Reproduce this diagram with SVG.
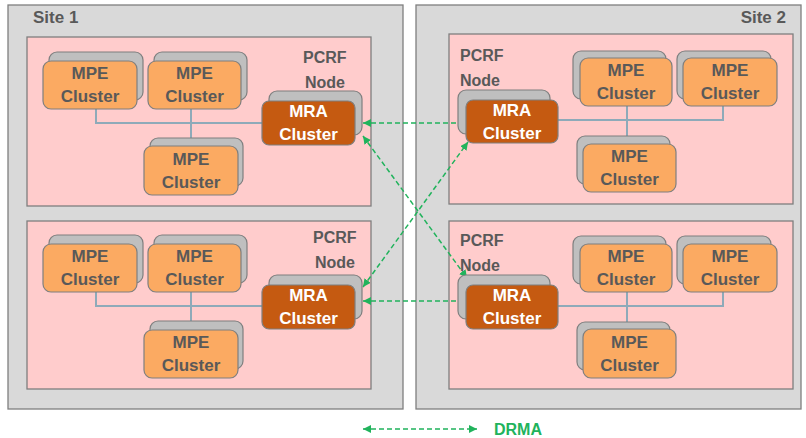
<svg xmlns="http://www.w3.org/2000/svg" width="806" height="438" viewBox="0 0 806 438">
<defs>
<style>
.site{fill:#d9d9d9;stroke:#7f7f7f;stroke-width:1.3}
.pcrf{fill:#ffcccc;stroke:#7f7f7f;stroke-width:1.3}
.back{fill:#bfbfbf;stroke:#7f7f7f;stroke-width:1.2}
.mpe{fill:#fbaa62;stroke:#7f7f7f;stroke-width:1.2}
.mra{fill:#c55a11;stroke:#7f7f7f;stroke-width:1.2}
.t{font-family:"Liberation Sans",Arial,sans-serif;font-weight:bold;fill:#595959}
.n{font-size:17px;text-anchor:middle}
.w{fill:#ffffff}
.lbl{font-size:16px}
.link{fill:none;stroke:#8eaab9;stroke-width:2}
.drma{fill:none;stroke:#21b35c;stroke-width:1.5;stroke-dasharray:5 3;marker-start:url(#ah);marker-end:url(#ah)}
</style>
<marker id="ah" markerUnits="userSpaceOnUse" markerWidth="10" markerHeight="10" refX="8" refY="4" orient="auto-start-reverse">
<path d="M0,0 L8,4 L0,8 z" fill="#21b35c"/>
</marker>
</defs>

<g id="site1">
<rect class="site" x="8" y="5" width="395" height="404"/>
<text class="t" x="33" y="22.5" font-size="17">Site 1</text>
</g>
<g id="site2">
<rect class="site" x="416" y="5" width="385" height="404"/>
<text class="t" x="786" y="22.5" font-size="17" text-anchor="end">Site 2</text>
</g>

<g id="pcrf-tl">
<rect class="pcrf" x="27" y="37" width="344" height="169"/>
<text class="t lbl" x="303" y="63">PCRF</text>
<text class="t lbl" x="305" y="88">Node</text>
</g>
<g id="pcrf-bl">
<rect class="pcrf" x="27" y="221" width="344" height="168"/>
<text class="t lbl" x="313" y="243">PCRF</text>
<text class="t lbl" x="315" y="268">Node</text>
</g>
<g id="pcrf-tr">
<rect class="pcrf" x="449" y="34" width="344" height="170"/>
<text class="t lbl" x="460" y="61">PCRF</text>
<text class="t lbl" x="460" y="86">Node</text>
</g>
<g id="pcrf-br">
<rect class="pcrf" x="449" y="221" width="344" height="168"/>
<text class="t lbl" x="460" y="246">PCRF</text>
<text class="t lbl" x="460" y="271">Node</text>
</g>

<g id="connectors">
<path class="link" d="M96,109 V123 H262 M191,109 V146"/>
<path class="link" d="M96,292 V306 H262 M191,292 V330"/>
<path class="link" d="M558,120 H723 V106 M627,106 V144"/>
<path class="link" d="M558,306 H723 V292 M627,292 V329"/>
<path class="drma" d="M363,123 L466,123"/>
<path class="drma" d="M363,136 L467,278"/>
<path class="drma" d="M363,287 L468,142"/>
<path class="drma" d="M363,301 L467,301"/>
</g>

<!-- Top-left node -->
<g id="tl-mpe1">
<rect class="back" x="49" y="52" width="94" height="48" rx="8"/>
<rect class="mpe" x="43" y="61" width="94" height="48" rx="8"/>
<text class="t n" x="90" y="79">MPE</text><text class="t n" x="90" y="102">Cluster</text>
</g>
<g id="tl-mpe2">
<rect class="back" x="154" y="52" width="93" height="48" rx="8"/>
<rect class="mpe" x="148" y="61" width="93" height="48" rx="8"/>
<text class="t n" x="194.5" y="79">MPE</text><text class="t n" x="194.5" y="102">Cluster</text>
</g>
<g id="tl-mpe3">
<rect class="back" x="150" y="138" width="93" height="48" rx="8"/>
<rect class="mpe" x="144" y="146" width="94" height="49" rx="8"/>
<text class="t n" x="191" y="164.5">MPE</text><text class="t n" x="191" y="187.5">Cluster</text>
</g>
<g id="tl-mra">
<rect class="back" x="269" y="91" width="93" height="44" rx="8"/>
<rect class="mra" x="262" y="101" width="93" height="44" rx="7"/>
<text class="t n w" x="308.5" y="117">MRA</text><text class="t n w" x="308.5" y="140">Cluster</text>
</g>

<!-- Bottom-left node -->
<g id="bl-mpe1">
<rect class="back" x="49" y="235" width="94" height="48" rx="8"/>
<rect class="mpe" x="43" y="244" width="94" height="48" rx="8"/>
<text class="t n" x="90" y="262">MPE</text><text class="t n" x="90" y="285">Cluster</text>
</g>
<g id="bl-mpe2">
<rect class="back" x="154" y="235" width="93" height="48" rx="8"/>
<rect class="mpe" x="148" y="244" width="93" height="48" rx="8"/>
<text class="t n" x="194.5" y="262">MPE</text><text class="t n" x="194.5" y="285">Cluster</text>
</g>
<g id="bl-mpe3">
<rect class="back" x="150" y="321" width="93" height="48" rx="8"/>
<rect class="mpe" x="144" y="330" width="94" height="48" rx="8"/>
<text class="t n" x="191" y="348">MPE</text><text class="t n" x="191" y="371">Cluster</text>
</g>
<g id="bl-mra">
<rect class="back" x="269" y="275" width="93" height="44" rx="8"/>
<rect class="mra" x="262" y="285" width="93" height="44" rx="7"/>
<text class="t n w" x="308.5" y="301">MRA</text><text class="t n w" x="308.5" y="324">Cluster</text>
</g>

<!-- Top-right node -->
<g id="tr-mra">
<rect class="back" x="458" y="90" width="92" height="44" rx="8"/>
<rect class="mra" x="466" y="100" width="92" height="43" rx="7"/>
<text class="t n w" x="512" y="116">MRA</text><text class="t n w" x="512" y="139">Cluster</text>
</g>
<g id="tr-mpe1">
<rect class="back" x="573" y="51" width="93" height="48" rx="8"/>
<rect class="mpe" x="580" y="58" width="92" height="48" rx="8"/>
<text class="t n" x="626" y="76">MPE</text><text class="t n" x="626" y="99">Cluster</text>
</g>
<g id="tr-mpe2">
<rect class="back" x="677" y="51" width="94" height="48" rx="8"/>
<rect class="mpe" x="683" y="58" width="94" height="48" rx="8"/>
<text class="t n" x="730" y="76">MPE</text><text class="t n" x="730" y="99">Cluster</text>
</g>
<g id="tr-mpe3">
<rect class="back" x="577" y="136" width="93" height="48" rx="8"/>
<rect class="mpe" x="583" y="144" width="93" height="48" rx="8"/>
<text class="t n" x="629.5" y="162">MPE</text><text class="t n" x="629.5" y="185">Cluster</text>
</g>

<!-- Bottom-right node -->
<g id="br-mra">
<rect class="back" x="458" y="275" width="92" height="44" rx="8"/>
<rect class="mra" x="466" y="285" width="92" height="44" rx="7"/>
<text class="t n w" x="512" y="301">MRA</text><text class="t n w" x="512" y="324">Cluster</text>
</g>
<g id="br-mpe1">
<rect class="back" x="573" y="236" width="93" height="48" rx="8"/>
<rect class="mpe" x="580" y="244" width="92" height="48" rx="8"/>
<text class="t n" x="626" y="262">MPE</text><text class="t n" x="626" y="285">Cluster</text>
</g>
<g id="br-mpe2">
<rect class="back" x="677" y="236" width="94" height="48" rx="8"/>
<rect class="mpe" x="683" y="244" width="94" height="48" rx="8"/>
<text class="t n" x="730" y="262">MPE</text><text class="t n" x="730" y="285">Cluster</text>
</g>
<g id="br-mpe3">
<rect class="back" x="577" y="322" width="93" height="48" rx="8"/>
<rect class="mpe" x="583" y="329" width="93" height="49" rx="8"/>
<text class="t n" x="629.5" y="347.5">MPE</text><text class="t n" x="629.5" y="370.5">Cluster</text>
</g>

<g id="legend">
<path class="drma" d="M363,429 L477,429"/>
<text class="t" x="494" y="434.5" font-size="16" style="fill:#21b35c">DRMA</text>
</g>
</svg>
